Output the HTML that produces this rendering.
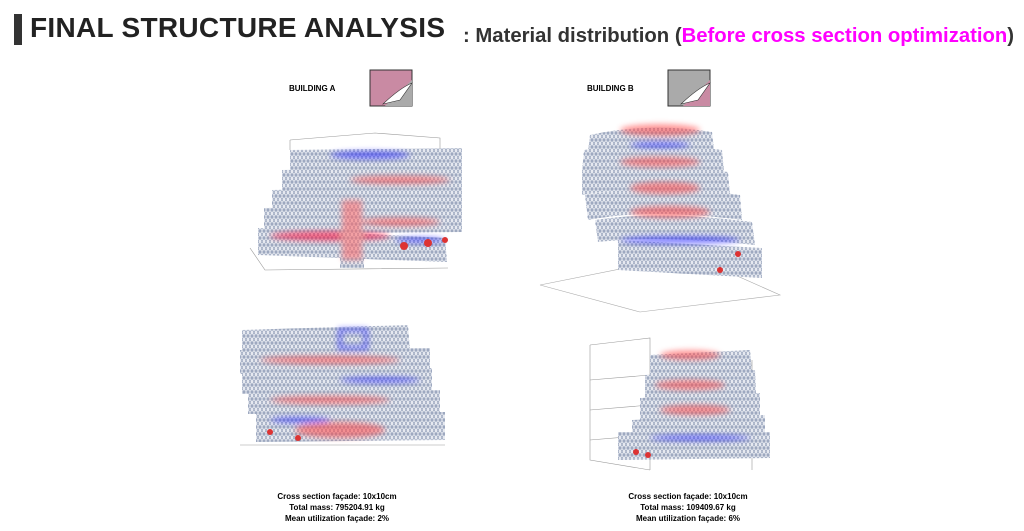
<!DOCTYPE html>
<html><head><meta charset="utf-8"><style>
body{margin:0;width:1024px;height:531px;background:#fff;overflow:hidden;font-family:"Liberation Sans",Arial,sans-serif;position:relative}
.t{position:absolute;white-space:nowrap}
.cap{position:absolute;text-align:center;font-size:8px;font-weight:bold;line-height:11px;width:200px}
</style></head><body>
<div style="position:absolute;left:14px;top:14px;width:8px;height:31px;background:#333"></div>
<div class="t" style="left:30px;top:12px;font-size:28px;font-weight:bold;color:#222;letter-spacing:0.3px">FINAL STRUCTURE ANALYSIS</div>
<div class="t" style="left:463px;top:25px;font-size:20.3px;font-weight:bold;color:#333">: Material distribution (<span style="color:#f0f">Before cross section optimization</span>)</div>
<div class="t" style="left:289px;top:84px;font-size:8px;font-weight:bold">BUILDING A</div>
<div class="t" style="left:587px;top:84px;font-size:8px;font-weight:bold">BUILDING B</div>
<svg width="1024" height="531" style="position:absolute;left:0;top:0">
<defs>
<pattern id="m" width="8" height="7" patternUnits="userSpaceOnUse">
<rect width="8" height="7" fill="#e6e9f0"/>
<path d="M0 0L8 0L4 7Z M0 7L4 0 M8 7L4 0 M0 7H8" stroke="#6d7ea0" stroke-width="0.5" fill="none"/>
</pattern>
<filter id="b"><feGaussianBlur stdDeviation="3"/></filter>
</defs>
<g><rect x="370" y="70" width="42" height="36" fill="#c98aa3" stroke="#333"/><path d="M385 106L412 80L412 106Z" fill="#aaa"/><path d="M383 104Q400 88 412 83L400 100Z" fill="#fff" stroke="#333" stroke-width=".6"/></g>
<g><rect x="668" y="70" width="42" height="36" fill="#aaa" stroke="#333"/><path d="M683 106L710 80L710 106Z" fill="#c98aa3"/><path d="M681 104Q698 88 710 83L698 100Z" fill="#fff" stroke="#333" stroke-width=".6"/></g>
<g stroke="#999" stroke-width=".6" fill="none"><path d="M290 140L375 133L440 138L440 150M290 140L290 150"/><path d="M250 248L265 270L448 268"/></g>
<g fill="url(#m)">
<path d="M290 150L462 148L462 172L290 176Z"/><path d="M282 170L462 167L462 192L282 196Z"/><path d="M272 190L462 186L462 212L272 214Z"/><path d="M264 208L462 205L462 232L264 234Z"/><path d="M258 228L445 238L447 262L258 255Z"/><rect x="340" y="150" width="24" height="118"/>
</g>
<g filter="url(#b)" opacity=".55"><ellipse cx="330" cy="236" rx="60" ry="5" fill="#f03"/><ellipse cx="370" cy="155" rx="40" ry="4" fill="#22f"/><ellipse cx="400" cy="180" rx="50" ry="4" fill="#f44"/><ellipse cx="400" cy="222" rx="40" ry="4" fill="#f44"/><ellipse cx="420" cy="240" rx="25" ry="3" fill="#22f"/><rect x="342" y="200" width="20" height="60" fill="#f66"/></g>
<g fill="#d33"><circle cx="404" cy="246" r="4"/><circle cx="428" cy="243" r="4"/><circle cx="445" cy="240" r="3"/></g>
<g stroke="#999" stroke-width=".6" fill="none"><path d="M240 445L445 445"/></g>
<g fill="url(#m)">
<path d="M242 330L408 325L410 352L242 352Z"/><path d="M240 350L430 348L430 372L240 374Z"/><path d="M242 370L432 368L432 392L242 394Z"/><path d="M248 392L440 390L440 412L248 414Z"/><path d="M256 412L445 412L445 440L256 442Z"/>
</g>
<g filter="url(#b)" opacity=".55"><rect x="340" y="330" width="26" height="18" fill="none" stroke="#22f" stroke-width="4"/><ellipse cx="330" cy="360" rx="70" ry="4" fill="#f44"/><ellipse cx="330" cy="400" rx="60" ry="4" fill="#f44"/><ellipse cx="340" cy="430" rx="45" ry="8" fill="#f44"/><ellipse cx="380" cy="380" rx="40" ry="3" fill="#22f"/><ellipse cx="300" cy="420" rx="30" ry="3" fill="#22f"/></g>
<g fill="#d33"><circle cx="270" cy="432" r="3"/><circle cx="298" cy="438" r="3"/></g>
<g stroke="#aaa" stroke-width=".6" fill="none"><path d="M540 285L690 255L780 295L640 312Z"/></g>
<g fill="url(#m)">
<path d="M590 135Q650 122 712 132L714 150Q650 140 588 152Z"/><path d="M584 150Q650 140 722 150L724 172Q650 160 582 172Z"/><path d="M582 172Q650 160 728 172L730 195Q650 183 582 195Z"/><path d="M585 195Q650 183 740 195L742 220Q650 208 588 220Z"/><path d="M595 220Q660 210 752 222L755 245Q660 235 598 242Z"/><path d="M618 240L762 248L762 278L618 270Z"/>
</g>
<g filter="url(#b)" opacity=".55"><ellipse cx="660" cy="130" rx="40" ry="6" fill="#f44"/><ellipse cx="660" cy="162" rx="40" ry="5" fill="#f44"/><ellipse cx="665" cy="188" rx="35" ry="6" fill="#f44"/><ellipse cx="670" cy="212" rx="40" ry="6" fill="#f44"/><ellipse cx="680" cy="240" rx="60" ry="4" fill="#22f"/><ellipse cx="660" cy="145" rx="30" ry="3" fill="#22f"/></g>
<g fill="#d33"><circle cx="738" cy="254" r="3"/><circle cx="720" cy="270" r="3"/></g>
<g stroke="#999" stroke-width=".6" fill="none"><path d="M590 345L650 338L650 470M590 345L590 460L650 470M590 380L650 375M590 410L650 405M590 440L650 435M752 360L752 470"/></g>
<g fill="url(#m)">
<path d="M650 355L750 350L752 372L650 378Z"/><path d="M645 375L755 370L756 395L645 400Z"/><path d="M640 398L760 393L760 418L640 422Z"/><path d="M632 420L765 415L765 440L632 445Z"/><path d="M618 432L770 432L770 458L618 460Z"/>
</g>
<g filter="url(#b)" opacity=".55"><ellipse cx="690" cy="355" rx="30" ry="5" fill="#f44"/><ellipse cx="690" cy="385" rx="35" ry="5" fill="#f44"/><ellipse cx="695" cy="410" rx="35" ry="5" fill="#f44"/><ellipse cx="700" cy="438" rx="50" ry="3" fill="#22f"/></g>
<g fill="#d33"><circle cx="636" cy="452" r="3"/><circle cx="648" cy="455" r="3"/></g>
</svg>
<div class="cap" style="left:237px;top:491px">Cross section façade: 10x10cm<br>Total mass: 795204.91 kg<br>Mean utilization façade: 2%</div>
<div class="cap" style="left:588px;top:491px">Cross section façade: 10x10cm<br>Total mass: 109409.67 kg<br>Mean utilization façade: 6%</div>
</body></html>
